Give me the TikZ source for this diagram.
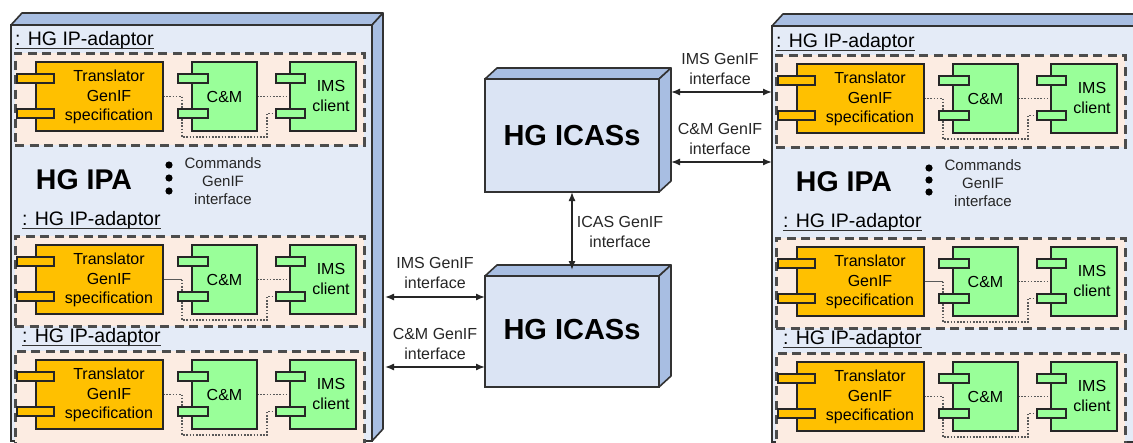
\documentclass[tikz,border=0pt]{standalone}
\usepackage{fontspec}
\setmainfont{Liberation Sans}
\usetikzlibrary{calc,arrows.meta}

\definecolor{ipafront}{RGB}{228,235,247}
\definecolor{panelblue}{RGB}{168,190,226}
\definecolor{icasfront}{RGB}{219,228,244}
\definecolor{peach}{RGB}{252,236,226}
\definecolor{gold}{RGB}{255,192,0}
\definecolor{lgreen}{RGB}{153,255,153}
\definecolor{edge}{RGB}{50,50,50}

\pgfdeclarelayer{bg}
\pgfdeclarelayer{wires}
\pgfsetlayers{bg,wires,main}

\tikzset{
  box3d/.style={draw=edge, line width=1.6pt, outer sep=0pt, inner sep=0pt, anchor=north west},
  panel/.style={draw=edge, line width=1.6pt, fill=panelblue, line join=round},
  adbox/.style={draw=black!70, fill=peach, line width=3pt, dash pattern=on 9pt off 5.5pt,
    anchor=north west, outer sep=0pt, inner sep=0pt, minimum width=349pt},
  part/.style={draw=black!85, line width=1.5pt, anchor=north west, outer sep=0pt,
    inner sep=0pt, minimum height=69pt},
  port/.style={draw=black!85, line width=1.5pt, anchor=north west, outer sep=0pt,
    inner sep=0pt, minimum height=9pt},
  small/.style={font=\fontsize{16}{19.5}\selectfont, align=center, inner sep=0pt},
  iflabel/.style={font=\fontsize{16}{20}\selectfont, align=center, inner sep=0pt, text=black!85},
  cmdlabel/.style={font=\fontsize{15}{18}\selectfont, align=center, inner sep=0pt, text=black!85},
  title/.style={font=\fontsize{19.5}{22}\selectfont, anchor=base west, inner sep=0pt},
  big/.style={font=\fontsize{28.5}{32}\selectfont\bfseries, inner sep=0pt},
  wire/.style={draw=black!65, line width=1.6pt, dash pattern=on 1.6pt off 1.6pt},
  solidwire/.style={draw=black!65, line width=1.5pt},
  lnk/.style={draw=black!85, line width=1.4pt,
    {Latex[length=9pt,width=7pt]}-{Latex[length=9pt,width=7pt]}},
}

% one IP-adaptor: dashed frame with translator, C&M and IMS client components
% #1 name prefix, #2/#3 top-left corner of the frame, #4 frame height,
% #5 style of the wire leaving the translator
\newcommand{\ipadapt}[5]{%
\begin{scope}[shift={(#2,#3)}]
  \begin{pgfonlayer}{bg}
    \node[adbox, minimum height=#4pt] (#1box) at (0,0) {};
  \end{pgfonlayer}
  \node[part, fill=gold, minimum width=127pt] (#1tr) at (21,9) {};
  \node[port, fill=gold, minimum width=37pt] (#1trpa) at (2,21) {};
  \node[port, fill=gold, minimum width=37pt] (#1trpb) at (2,56) {};
  \node[small] (#1trt) at (94,44) {Translator\\GenIF\\specification};
  \node[part, fill=lgreen, minimum width=65pt] (#1cm) at (177,9) {};
  \node[port, fill=lgreen, minimum width=30pt] (#1cmpa) at (163,21) {};
  \node[port, fill=lgreen, minimum width=30pt] (#1cmpb) at (163,56) {};
  \node[small] (#1cmt) at (209.5,44) {C\&M};
  \node[part, fill=lgreen, minimum width=66pt] (#1ims) at (275,9) {};
  \node[port, fill=lgreen, minimum width=29pt] (#1impa) at (261,21) {};
  \node[port, fill=lgreen, minimum width=29pt] (#1impb) at (261,56) {};
  \node[small] (#1imt) at (316,43) {IMS\\client};
  \coordinate (#1ka) at (167,84);
  \coordinate (#1kb) at (252,84);
  \begin{pgfonlayer}{wires}
    \draw[#5] (#1tr.east) -- (#1tr.east -| #1ka);
    \draw[wire] (#1tr.east -| #1ka) -- (#1ka) -- (#1kb) |- (#1impb.west);
    \draw[wire] (#1cm.east) -- (#1ims.west);
  \end{pgfonlayer}
\end{scope}}

% underlined instance name
\newcommand{\instname}[3]{%
  \node[title] (#1) at (#2,#3) {: HG IP-adaptor};
  \draw[line width=1.3pt, black!80] ([yshift=-3.5pt]#1.base west) -- ([yshift=-3.5pt]#1.base east);}

\begin{document}
\begin{tikzpicture}[x=1pt, y=-1pt]
\useasboundingbox (0,0) rectangle (1133,442);

% ---------- the two HG IPA nodes ----------
\begin{pgfonlayer}{bg}
  \fill[white] (0,0) rectangle (1133,442);
  \node[box3d, fill=ipafront, minimum width=361pt, minimum height=416pt] (ipaL) at (11,25) {};
  \filldraw[panel] (ipaL.north west) -- ++(11,-12) -- ($(ipaL.north east)+(11,-12)$)
     -- (ipaL.north east) -- cycle;
  \filldraw[panel] (ipaL.north east) -- ++(11,-12) -- ($(ipaL.south east)+(11,-12)$)
     -- (ipaL.south east) -- cycle;
  \node[box3d, fill=ipafront, minimum width=400pt, minimum height=416pt] (ipaR) at (772,26) {};
  \filldraw[panel] (ipaR.north west) -- ++(11,-12) -- ($(ipaR.north east)+(11,-12)$)
     -- (ipaR.north east) -- cycle;
\end{pgfonlayer}

\ipadapt{la}{15}{53}{92}{wire}
\ipadapt{lb}{15}{236}{90}{solidwire}
\ipadapt{lc}{15}{351}{110}{wire}
\ipadapt{ra}{776}{55}{92}{wire}
\ipadapt{rb}{776}{238}{90}{solidwire}
\ipadapt{rc}{776}{353}{110}{wire}

\instname{lna}{15}{45}
\instname{lnb}{22}{225}
\instname{lnc}{22}{342}
\instname{rna}{776}{47}
\instname{rnb}{783}{227}
\instname{rnc}{783}{344}

\node[big] (ipaLt) at (84,180) {HG IPA};
\node[big] (ipaRt) at (844,182) {HG IPA};
\fill (169,165) circle (3.6) (169,178) circle (3.6) (169,191) circle (3.6);
\fill (929,168) circle (3.6) (929,180) circle (3.6) (929,192) circle (3.6);
\node[cmdlabel] (cmdL) at (223,181) {Commands\\GenIF\\interface};
\node[cmdlabel] (cmdR) at (983,183) {Commands\\GenIF\\interface};

% ---------- the two HG ICASs nodes ----------
\node[box3d, fill=icasfront, minimum width=174pt, minimum height=113pt] (icasT) at (485,79) {};
\filldraw[panel] (icasT.north west) -- ++(12,-11) -- ($(icasT.north east)+(12,-11)$)
   -- (icasT.north east) -- cycle;
\filldraw[panel] (icasT.north east) -- ++(12,-11) -- ($(icasT.south east)+(12,-11)$)
   -- (icasT.south east) -- cycle;
\node[big, font=\fontsize{29}{32}\selectfont\bfseries] (icasTt) at (icasT.center) {HG ICASs};

\node[box3d, fill=icasfront, minimum width=174pt, minimum height=111pt] (icasB) at (485,276) {};
\filldraw[panel] (icasB.north west) -- ++(12,-11) -- ($(icasB.north east)+(12,-11)$)
   -- (icasB.north east) -- cycle;
\filldraw[panel] (icasB.north east) -- ++(12,-11) -- ($(icasB.south east)+(12,-11)$)
   -- (icasB.south east) -- cycle;
\node[big, font=\fontsize{29}{32}\selectfont\bfseries] (icasBt) at ($(icasB.center)+(0,-2)$) {HG ICASs};

% ---------- GenIF interfaces ----------
\coordinate (tIMS) at (671,92);
\coordinate (tCM) at (671,162);
\draw[lnk] (tIMS) -- (tIMS -| ipaR.west);
\draw[lnk] (tCM) -- (tCM -| ipaR.west);
\node[iflabel] (tIMSl) at (720,69) {IMS GenIF\\interface};
\node[iflabel] (tCMl) at (720,139) {C\&M GenIF\\interface};

\coordinate (bIMS) at (385,297);
\coordinate (bCM) at (385,367);
\draw[lnk] (bIMS) -- (bIMS -| icasB.west);
\draw[lnk] (bCM) -- (bCM -| icasB.west);
\node[iflabel] (bIMSl) at (435,273) {IMS GenIF\\interface};
\node[iflabel] (bCMl) at (435,344) {C\&M GenIF\\interface};

\coordinate (icasBtop) at ($(icasB.north)+(0,-6)$);
\draw[lnk] (icasT.south) -- (icasBtop);
\node[iflabel] (icasl) at (620,232) {ICAS GenIF\\interface};
\end{tikzpicture}
\end{document}
